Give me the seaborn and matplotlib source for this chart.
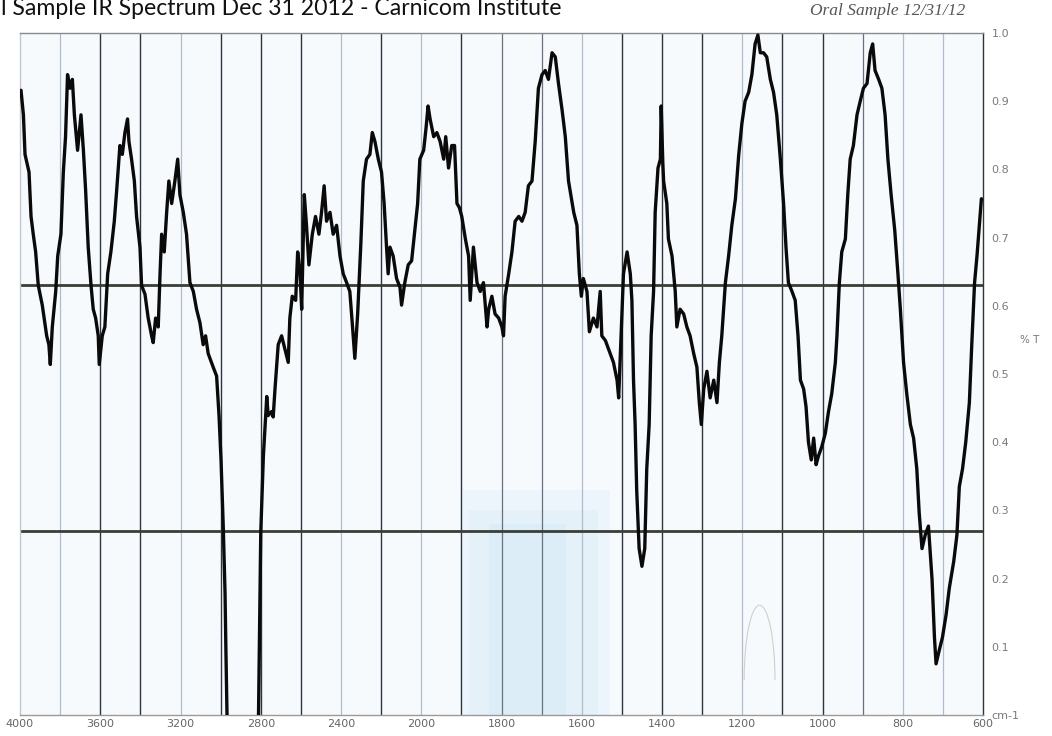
import numpy as np
import matplotlib
matplotlib.use("Agg")
import matplotlib.pyplot as plt
import seaborn as sns
from matplotlib.patches import Arc

# ---------------- data ----------------
wavenumber = [
    3995, 3983, 3975, 3955, 3945, 3934, 3922, 3909, 3889, 3867, 3856, 3849, 3839, 3822, 3812,
    3796, 3784, 3773, 3763, 3751, 3739, 3729, 3713, 3696, 3684, 3673, 3660, 3646, 3635, 3623,
    3610, 3605, 3590, 3577, 3563, 3547, 3530, 3518, 3502, 3490, 3477, 3464, 3457, 3444, 3430,
    3419, 3402, 3394, 3377, 3361, 3344, 3336, 3324, 3311, 3302, 3294, 3281, 3269, 3258, 3244,
    3228, 3214, 3203, 3186, 3170, 3153, 3136, 3120, 3103, 3087, 3075, 3062, 3037, 3020, 3008,
    2998, 2987, 2978, 2974, 2967,
    2812, 2800, 2787, 2770, 2763, 2746, 2738, 2729, 2713, 2704, 2696, 2679, 2663, 2655, 2643,
    2626, 2616, 2605, 2596, 2583, 2572, 2560, 2543, 2527, 2510, 2497, 2484, 2472, 2455, 2439,
    2422, 2405, 2389, 2372, 2356, 2344, 2331, 2317, 2301, 2289, 2273, 2256, 2244, 2231, 2214,
    2198, 2185, 2173, 2165, 2156, 2140, 2123, 2106, 2098, 2082, 2065, 2048, 2032, 2018, 2007,
    1994, 1988, 1983, 1978, 1969, 1961, 1953, 1944, 1939, 1932, 1924, 1917, 1911, 1905, 1899,
    1890, 1882, 1878, 1870, 1861, 1853, 1845, 1836, 1832, 1824, 1816, 1807, 1799, 1795, 1791,
    1782, 1774, 1766, 1757, 1749, 1741, 1733, 1724, 1716, 1708, 1699, 1691, 1683, 1674, 1666,
    1658, 1649, 1641, 1633, 1620, 1612, 1606, 1601, 1596, 1587, 1581, 1571, 1562, 1554, 1550,
    1541, 1529, 1521, 1512, 1508, 1502, 1496, 1487, 1479, 1475, 1471, 1467, 1463, 1457, 1450,
    1443, 1438, 1432, 1427, 1421, 1417, 1410, 1404, 1402, 1398, 1396, 1388, 1384, 1375, 1367,
    1363, 1355, 1346, 1338, 1330, 1321, 1313, 1307, 1302, 1296, 1288, 1280, 1271, 1263, 1257,
    1251, 1242, 1234, 1226, 1217, 1209, 1201, 1193, 1184, 1176, 1168, 1161, 1155, 1147, 1139,
    1130, 1122, 1114, 1105, 1097, 1091, 1085, 1076, 1068, 1061, 1055, 1047, 1041, 1035, 1028,
    1022, 1016, 1010, 1002, 993, 985, 977, 968, 964, 958, 952, 943, 937, 931, 923,
    914, 906, 898, 889, 881, 875, 869, 860, 852, 844, 837, 829, 820, 812, 806,
    798, 790, 781, 773, 765, 759, 752, 744, 736, 727, 721, 717, 709, 701, 692,
    684, 673, 665, 659, 651, 643, 634, 628, 621, 615, 609, 604,
]
transmittance = [
    0.916, 0.880, 0.822, 0.796, 0.731, 0.705, 0.679, 0.630, 0.601, 0.556, 0.543, 0.514, 0.569, 0.621, 0.673,
    0.705, 0.796, 0.848, 0.939, 0.919, 0.932, 0.880, 0.828, 0.880, 0.828, 0.770, 0.686, 0.630, 0.595, 0.582,
    0.556, 0.514, 0.556, 0.569, 0.647, 0.679, 0.724, 0.770, 0.835, 0.822, 0.854, 0.874, 0.841, 0.815, 0.783,
    0.731, 0.686, 0.630, 0.617, 0.582, 0.556, 0.546, 0.582, 0.569, 0.647, 0.705, 0.679, 0.737, 0.783, 0.750,
    0.783, 0.815, 0.763, 0.737, 0.705, 0.634, 0.621, 0.595, 0.575, 0.543, 0.556, 0.530, 0.510, 0.497, 0.439,
    0.374, 0.277, 0.179, 0.101, -0.020,
    -0.020, 0.267, 0.379, 0.467, 0.439, 0.445, 0.437, 0.478, 0.543, 0.550, 0.556, 0.536, 0.517, 0.582, 0.614,
    0.608, 0.679, 0.653, 0.595, 0.763, 0.718, 0.660, 0.705, 0.731, 0.705, 0.737, 0.776, 0.724, 0.737, 0.705,
    0.718, 0.673, 0.647, 0.634, 0.621, 0.575, 0.523, 0.588, 0.692, 0.783, 0.815, 0.822, 0.854, 0.841, 0.815,
    0.796, 0.750, 0.686, 0.647, 0.686, 0.673, 0.640, 0.627, 0.601, 0.634, 0.660, 0.666, 0.711, 0.750, 0.815,
    0.828, 0.861, 0.893, 0.874, 0.848, 0.854, 0.841, 0.815, 0.848, 0.802, 0.835, 0.835, 0.750, 0.744, 0.731,
    0.698, 0.673, 0.608, 0.686, 0.634, 0.621, 0.634, 0.569, 0.595, 0.614, 0.588, 0.582, 0.569, 0.556, 0.614,
    0.647, 0.679, 0.724, 0.731, 0.724, 0.737, 0.776, 0.783, 0.841, 0.919, 0.939, 0.945, 0.932, 0.971, 0.965,
    0.926, 0.887, 0.848, 0.783, 0.737, 0.718, 0.647, 0.614, 0.640, 0.621, 0.562, 0.582, 0.569, 0.621, 0.556,
    0.549, 0.530, 0.517, 0.491, 0.465, 0.556, 0.647, 0.679, 0.647, 0.608, 0.491, 0.426, 0.329, 0.244, 0.218,
    0.244, 0.361, 0.426, 0.556, 0.621, 0.737, 0.802, 0.815, 0.893, 0.810, 0.783, 0.750, 0.698, 0.673, 0.621,
    0.569, 0.595, 0.588, 0.569, 0.556, 0.530, 0.510, 0.458, 0.426, 0.478, 0.504, 0.465, 0.491, 0.458, 0.517,
    0.556, 0.634, 0.673, 0.718, 0.757, 0.820, 0.867, 0.900, 0.913, 0.939, 0.984, 0.997, 0.971, 0.971, 0.965,
    0.932, 0.913, 0.880, 0.815, 0.750, 0.686, 0.634, 0.621, 0.608, 0.556, 0.491, 0.478, 0.452, 0.400, 0.374,
    0.406, 0.367, 0.380, 0.393, 0.413, 0.445, 0.471, 0.517, 0.556, 0.634, 0.679, 0.698, 0.763, 0.815, 0.835,
    0.880, 0.900, 0.919, 0.926, 0.971, 0.984, 0.945, 0.932, 0.919, 0.880, 0.815, 0.763, 0.711, 0.647, 0.595,
    0.517, 0.471, 0.426, 0.406, 0.361, 0.296, 0.244, 0.264, 0.277, 0.199, 0.114, 0.075, 0.095, 0.114, 0.147,
    0.186, 0.225, 0.264, 0.335, 0.361, 0.400, 0.458, 0.543, 0.634, 0.673, 0.718, 0.757,
]
x_tick_values = [4000, 3600, 3200, 2800, 2400, 2000, 1800, 1600, 1400, 1200, 1000, 800, 600]
x_tick_labels = ["4000", "3600", "3200", "2800", "2400", "2000", "1800", "1600",
                 "1400", "1200", "1000", "800", "600"]
y_tick_values = [0.0, 0.1, 0.2, 0.3, 0.4, 0.5, 0.6, 0.7, 0.8, 0.9, 1.0]
y_tick_labels = ["cm-1", "0.1", "0.2", "0.3", "0.4", "0.5", "0.6", "0.7", "0.8", "0.9", "1.0"]
reference_levels = [0.63, 0.27]
grid_dark = [3600, 3400, 3000, 2800, 2600, 2200, 1900, 1500, 1400, 1300, 1100, 1000]
grid_mid = [1800, 1700, 900]
grid_light = [3800, 3200, 2400, 2000, 1600, 1200, 800, 700]
# the scan crops the title at the left edge; the visible part is kept
title_text = "l Sample IR Spectrum Dec 31 2012 - Carnicom Institute"
note_text = "Oral Sample 12/31/12"
y_axis_text = "% T"


# ---------------- IR chart scale: 2x expansion below 2000 cm-1 ----------------
def fwd(x):
    x = np.asarray(x, dtype=float)
    return np.where(x >= 2000, x, 2 * x - 2000)


def inv(y):
    y = np.asarray(y, dtype=float)
    return np.where(y >= 2000, y, (y + 2000) / 2)


sns.set_theme(style="white")
plt.rcParams["font.family"] = ["DejaVu Sans"]

W, H = 1052, 736
fig = plt.figure(figsize=(W / 100, H / 100), dpi=100)
fig.patch.set_facecolor("white")
ax = fig.add_axes([20 / W, 21 / H, 963 / W, 682 / H])
ax.set_facecolor("#f6fafd")

# faint blue smudge on the scanned paper
ax.axvspan(1530, 1895, ymin=0, ymax=0.33, color="#e0f0f9", alpha=0.45, lw=0, zorder=0)
ax.axvspan(1560, 1880, ymin=0, ymax=0.30, color="#d6eaf6", alpha=0.35, lw=0, zorder=0)
ax.axvspan(1640, 1830, ymin=0, ymax=0.28, color="#cce4f3", alpha=0.30, lw=0, zorder=0)

# printed vertical grid
for v in grid_dark:
    ax.axvline(v, color="#2e3340", lw=1.0, zorder=1)
for v in grid_mid:
    ax.axvline(v, color="#6a7080", lw=0.9, zorder=1)
for v in grid_light:
    ax.axvline(v, color="#aebccc", lw=0.9, zorder=1)

# dark horizontal reference bars
for lvl in reference_levels:
    ax.axhline(lvl, color="#3b3d36", lw=2.0, zorder=2)

sns.lineplot(x=wavenumber, y=transmittance, ax=ax, sort=False, estimator=None,
             color="#0a0a0a", lw=2.4, zorder=3)

ax.set_xscale("function", functions=(fwd, inv))
ax.set_xlim(4000, 600)
ax.set_ylim(0, 1.0)

ax.set_xticks(x_tick_values)
ax.set_xticklabels(x_tick_labels)
ax.yaxis.tick_right()
ax.set_yticks(y_tick_values)
ax.set_yticklabels(y_tick_labels)
ax.tick_params(axis="x", length=0, pad=3, labelsize=8, labelcolor="#666666")
ax.tick_params(axis="y", length=0, pad=6, labelsize=8, labelcolor="#7a7a7a")
ax.set_xlabel("")
ax.set_ylabel("")
ax.grid(False)

ax.spines["top"].set_color("#8a8a8a")
ax.spines["bottom"].set_color("#9a9a9a")
ax.spines["left"].set_color("#c0c8d0")
ax.spines["right"].set_color("#333333")
for s in ax.spines.values():
    s.set_linewidth(1.0)

# faint pencil arc
ax.add_patch(Arc((0.768, 0.051), 0.032, 0.22, theta1=0, theta2=180,
                 transform=ax.transAxes, color="#d0d0d0", lw=0.8, zorder=1))

fig.text(1030 / W, 1 - 340 / H, y_axis_text, fontsize=7.5, color="#777777",
         ha="center", va="center")

# handwritten note
fig.text(810 / W, 1 - 15 / H, note_text, fontsize=12.5, color="#555555",
         family="Liberation Serif", style="italic", ha="left", va="baseline")

# title (visible part), sized to the scan's width
fig.canvas.draw()
renderer = fig.canvas.get_renderer()
tmp = fig.text(0, 0, title_text, fontsize=14, family="Lato")
w_vis = tmp.get_window_extent(renderer).width
tmp.remove()
fs = 14 * 562 / w_vis
fig.text(1 / W, 1 - 15 / H, title_text, fontsize=fs, family="Lato",
         color="#111111", ha="left", va="baseline")

fig.savefig("out.png", dpi=100, facecolor="white")
